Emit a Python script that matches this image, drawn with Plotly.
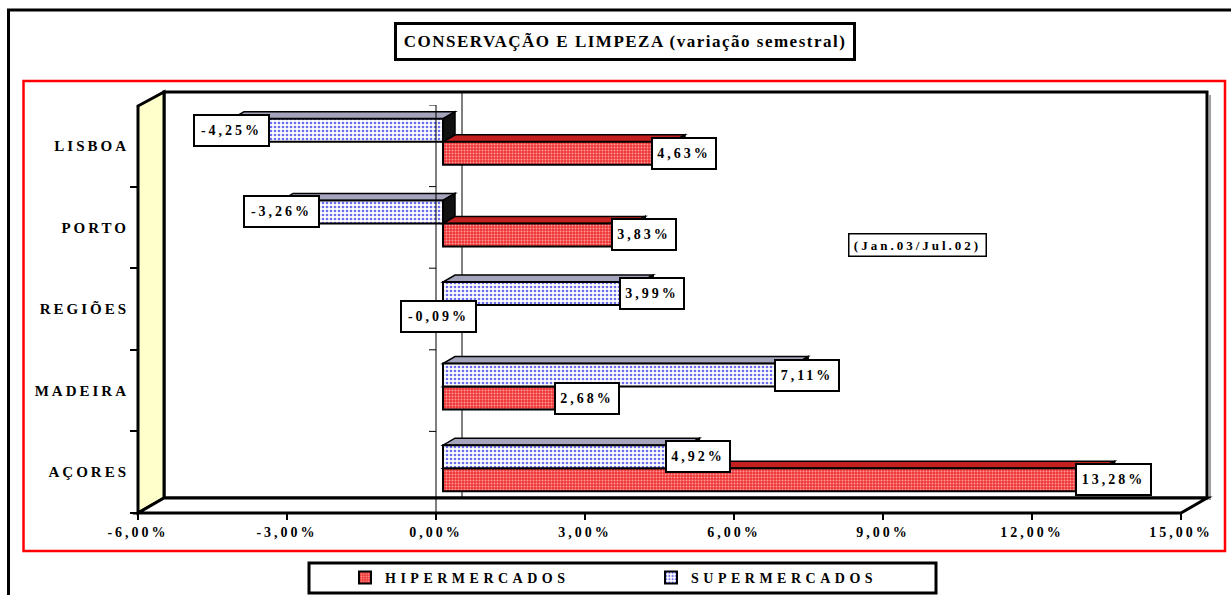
import plotly.graph_objects as go

# ---------------- data ----------------
categories = ["LISBOA", "PORTO", "REGIÕES", "MADEIRA", "AÇORES"]
hiper = [4.63, 3.83, -0.09, 2.68, 13.28]
supermercados = [-4.25, -3.26, 3.99, 7.11, 4.92]
series_names = ["HIPERMERCADOS", "SUPERMERCADOS"]
xtick_vals = [-6, -3, 0, 3, 6, 9, 12, 15]
xtick_labels = ["-6,00%", "-3,00%", "0,00%", "3,00%", "6,00%", "9,00%", "12,00%", "15,00%"]
title_text = "CONSERVAÇÃO E LIMPEZA (variação semestral)"
period_text = "(Jan.03/Jul.02)"
x_range = [-6, 15]

# ---------------- helpers ----------------
W, H = 1231, 595


def px(x):
    return x / W


def py(y):
    return 1 - y / H


SERIF = "Liberation Serif, Times New Roman, serif"


def spaced(text, s):
    return f'<span style="letter-spacing:{s}px">{text}</span>'


def fmt(v):
    return f"{v:.2f}".replace(".", ",") + "%"


def font(size):
    return dict(family=SERIF, size=size, color="black", weight="bold")


# front plane (axis labels) and bar plane (shifted by depth)
FRONT_L, FRONT_R, FRONT_T, FRONT_B = 138, 1181, 105, 513
DEPTH_X, DEPTH_Y = 26, 15
BAR_SHIFT_X, BAR_SHIFT_Y = 7, 4
BAR_L, BAR_R = FRONT_L + BAR_SHIFT_X, FRONT_R + BAR_SHIFT_X
BAR_T, BAR_B = FRONT_T - BAR_SHIFT_Y, FRONT_B - BAR_SHIFT_Y

BARGAP = 0.436
HALF = (1 - BARGAP) / 4
DX = 12 * (x_range[1] - x_range[0]) / (BAR_R - BAR_L)
DY = 7 * len(categories) / (BAR_B - BAR_T)

cat_order = categories[::-1]
cat_idx = {c: i for i, c in enumerate(cat_order)}

HIPER_BG, HIPER_FG, HIPER_TOP = "#EE3333", "#FF9C9C", "#C42020"
SUPER_BG, SUPER_FG, SUPER_TOP = "#FFFFFF", "#6B6BF2", "#A4A4BC"

fig = go.Figure()

# invisible trace for the front axes
fig.add_trace(go.Scatter(x=[0] * len(categories), y=categories, xaxis="x", yaxis="y",
                         mode="markers", marker=dict(opacity=0), showlegend=False,
                         hoverinfo="skip"))

fig.add_trace(go.Bar(
    name=spaced(series_names[0], 4.5), y=categories, x=hiper, orientation="h",
    xaxis="x2", yaxis="y2",
    marker=dict(color=HIPER_BG, line=dict(color="black", width=2),
                pattern=dict(shape=".", bgcolor=HIPER_BG, fgcolor=HIPER_FG, size=3, solidity=0.35)),
    hoverinfo="skip"))
fig.add_trace(go.Bar(
    name=spaced(series_names[1], 4.5), y=categories, x=supermercados, orientation="h",
    xaxis="x2", yaxis="y2",
    marker=dict(color=SUPER_BG, line=dict(color="black", width=2),
                pattern=dict(shape=".", bgcolor=SUPER_BG, fgcolor=SUPER_FG, size=4, solidity=0.35)),
    hoverinfo="skip"))

shapes = []
# outer frame and red frame
shapes.append(dict(type="rect", xref="paper", yref="paper", x0=px(8.5), x1=px(1245), y0=py(10), y1=py(620),
                   line=dict(color="black", width=3), layer="below"))
shapes.append(dict(type="rect", xref="paper", yref="paper", x0=px(23.5), x1=px(1225), y0=py(81), y1=py(551),
                   line=dict(color="#FF0000", width=2.5), layer="below"))
# back wall shadow + back wall
shapes.append(dict(type="line", xref="paper", yref="paper", x0=px(1210), x1=px(1210), y0=py(95), y1=py(500),
                   line=dict(color="#A0A0A0", width=2), layer="below"))
shapes.append(dict(type="rect", xref="paper", yref="paper",
                   x0=px(FRONT_L + DEPTH_X), x1=px(FRONT_R + DEPTH_X),
                   y0=py(FRONT_T - 13), y1=py(FRONT_B - DEPTH_Y),
                   fillcolor="white", line=dict(color="black", width=3), layer="below"))
# left wall
shapes.append(dict(type="path", xref="paper", yref="paper",
                   path=f"M{px(FRONT_L)},{py(FRONT_T + 1)} L{px(FRONT_L + DEPTH_X)},{py(FRONT_T - 13)} "
                        f"L{px(FRONT_L + DEPTH_X)},{py(FRONT_B - DEPTH_Y)} L{px(FRONT_L)},{py(FRONT_B)} Z",
                   fillcolor="#FFFFCC", line=dict(color="black", width=3), layer="below"))
# floor
shapes.append(dict(type="path", xref="paper", yref="paper",
                   path=f"M{px(FRONT_L)},{py(FRONT_B)} L{px(FRONT_L + DEPTH_X)},{py(FRONT_B - DEPTH_Y)} "
                        f"L{px(FRONT_R + DEPTH_X)},{py(FRONT_B - DEPTH_Y)} L{px(FRONT_R)},{py(FRONT_B)} Z",
                   fillcolor="white", line=dict(color="black", width=3), layer="below"))
# back zero line
shapes.append(dict(type="line", xref="x", yref="paper", xsizemode="pixel", xanchor=0, x0=DEPTH_X, x1=DEPTH_X,
                   y0=py(FRONT_T - 13), y1=py(FRONT_B - DEPTH_Y), line=dict(color="black", width=1),
                   layer="below"))
# front zero line with ticks
shapes.append(dict(type="line", xref="x", yref="y", x0=0, x1=0, y0=-0.5, y1=len(categories) - 0.5,
                   line=dict(color="black", width=1), layer="above"))
for i in range(len(categories) + 1):
    shapes.append(dict(type="line", xref="x", yref="y", xsizemode="pixel", xanchor=0, x0=-7, x1=0,
                       y0=i - 0.5, y1=i - 0.5, line=dict(color="black", width=1), layer="above"))

# 3D faces of bars
for vals, off, top_col in ((hiper, -HALF, HIPER_TOP), (supermercados, HALF, SUPER_TOP)):
    for c, v in zip(categories, vals):
        i = cat_idx[c] + off
        yb, yt = i - HALF, i + HALF
        x0, x1 = min(0, v), max(0, v)
        shapes.append(dict(type="path", xref="x2", yref="y2",
                           path=f"M{x0},{yt} L{x1},{yt} L{x1 + DX},{yt + DY} L{x0 + DX},{yt + DY} Z",
                           fillcolor=top_col, line=dict(color="black", width=1.5), layer="below"))
        shapes.append(dict(type="path", xref="x2", yref="y2",
                           path=f"M{x1},{yb} L{x1},{yt} L{x1 + DX},{yt + DY} L{x1 + DX},{yb + DY} Z",
                           fillcolor="#111111", line=dict(color="black", width=1.5), layer="below"))

# legend box
shapes.append(dict(type="rect", xref="paper", yref="paper", x0=px(309), x1=px(936), y0=py(563), y1=py(593),
                   line=dict(color="black", width=3), fillcolor="white", layer="below"))

annotations = []
annotations.append(dict(xref="paper", yref="paper", x=px(625), y=py(41.5), text=spaced(title_text, 1.5),
                        showarrow=False, font=font(17), bgcolor="white", bordercolor="black", borderwidth=3,
                        borderpad=2, width=452, height=29, xanchor="center", yanchor="middle"))
annotations.append(dict(xref="paper", yref="paper", x=px(917.5), y=py(245), text=spaced(period_text, 3),
                        showarrow=False, font=font(13), bgcolor="white", bordercolor="black", borderwidth=1.5,
                        borderpad=1, width=134, height=19, xanchor="center", yanchor="middle"))
for vals, off in ((hiper, -HALF), (supermercados, HALF)):
    for c, v in zip(categories, vals):
        t = fmt(v)
        annotations.append(dict(xref="x2", yref="y2", x=v, y=cat_idx[c] + off, text=spaced(t, 3),
                                showarrow=False, font=font(14), bgcolor="white", bordercolor="black",
                                borderwidth=2, borderpad=3, width=11 * len(t) + 1, height=23,
                                xanchor="center", yanchor="middle", xshift=11 if v > 0 else 0))

fig.update_layout(
    template="none",
    width=W, height=H, autosize=False,
    margin=dict(l=0, r=0, t=0, b=0, pad=0, autoexpand=False),
    paper_bgcolor="white", plot_bgcolor="rgba(0,0,0,0)",
    barmode="group", bargap=BARGAP, bargroupgap=0,
    hovermode=False,
    xaxis=dict(domain=[px(FRONT_L), px(FRONT_R)], range=x_range, anchor="y", automargin=False,
               tickmode="array", tickvals=xtick_vals, ticktext=[spaced(t, 3) for t in xtick_labels],
               ticks="outside", ticklen=6, tickwidth=2, tickcolor="black",
               showgrid=False, zeroline=False, showline=False, tickfont=font(14), fixedrange=True),
    yaxis=dict(domain=[py(FRONT_B), py(FRONT_T)], anchor="x", type="category", automargin=False,
               categoryorder="array", categoryarray=cat_order, range=[-0.5, len(categories) - 0.5],
               tickmode="array", tickvals=categories, ticktext=[spaced(c, 3) for c in categories],
               tickson="boundaries", ticks="outside", ticklen=7, tickwidth=2, tickcolor="black",
               ticklabelstandoff=8,
               showgrid=False, zeroline=False, showline=False, tickfont=font(15), fixedrange=True),
    xaxis2=dict(domain=[px(BAR_L), px(BAR_R)], range=x_range, anchor="y2", visible=False,
                automargin=False, fixedrange=True),
    yaxis2=dict(domain=[py(BAR_B), py(BAR_T)], anchor="x2", type="category", automargin=False,
                categoryorder="array", categoryarray=cat_order, range=[-0.5, len(categories) - 0.5],
                visible=False, fixedrange=True),
    legend=dict(orientation="h", x=px(345), xanchor="left", y=py(578), yanchor="middle",
                entrywidth=261, entrywidthmode="pixels", font=font(14),
                bgcolor="rgba(0,0,0,0)", borderwidth=0, traceorder="normal"),
    shapes=shapes,
    annotations=annotations,
)

fig.write_html("out.html", config={"displayModeBar": False},
               post_script="document.body.style.margin='0';document.body.style.overflow='hidden';")
